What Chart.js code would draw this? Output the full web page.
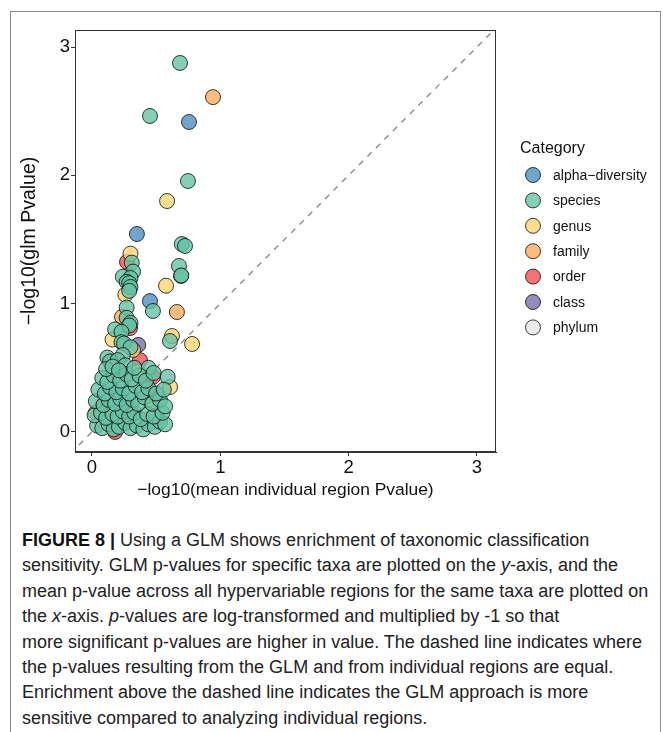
<!DOCTYPE html>
<html>
<head>
<meta charset="utf-8">
<title>GLM vs individual region p-values</title>
<script src="https://cdn.jsdelivr.net/npm/chart.js@4.4.0/dist/chart.umd.min.js"></script>
<style>
  body { margin: 0; background: #fff; font-family: 'Liberation Sans', Arial, sans-serif; }
  #frame { position: absolute; left: 10px; top: 11px; width: 651px; height: 760px; border: 1px solid #8a8a8a; box-sizing: border-box; }
  #plot { position: absolute; left: 11px; top: 12px; }
  #caption { position: absolute; left: 22px; top: 528px; font-size: 18px; line-height: 25.4px; color: #222; white-space: nowrap; }
  #caption b { color: #111; }
</style>
</head>
<body>
<div id="frame"></div>
<canvas id="plot" width="648" height="500"></canvas>
<div id="caption">
  <b>FIGURE 8 |</b> Using a GLM shows enrichment of taxonomic classification<br>
  sensitivity. GLM p-values for specific taxa are plotted on the <i>y</i>-axis, and the<br>
  mean p-value across all hypervariable regions for the same taxa are plotted on<br>
  the <i>x</i>-axis. <i>p</i>-values are log-transformed and multiplied by -1 so that<br>
  more significant p-values are higher in value. The dashed line indicates where<br>
  the p-values resulting from the GLM and from individual regions are equal.<br>
  Enrichment above the dashed line indicates the GLM approach is more<br>
  sensitive compared to analyzing individual regions.
</div>
<script>
// [-log10(mean individual region p), -log10(glm p)] per taxon
const alphaDiversity = [[0.756, 2.416], [0.35, 1.543], [0.452, 1.02], [0.21, 0.29]];

const species = [
  [0.686, 2.876], [0.452, 2.463], [0.748, 1.956], [0.70, 1.465], [0.725, 1.45],
  [0.678, 1.294], [0.694, 1.216], [0.696, 1.22], [0.475, 0.943], [0.608, 0.709], [0.59, 0.43],
  [0.31, 1.32], [0.32, 1.25], [0.24, 1.21], [0.30, 1.20], [0.27, 1.17], [0.29, 1.16],
  [0.30, 1.13], [0.29, 1.10], [0.27, 0.97], [0.27, 0.89], [0.30, 0.85], [0.29, 0.83],
  [0.18, 0.80], [0.23, 0.78], [0.23, 0.70], [0.25, 0.69], [0.30, 0.66], [0.12, 0.58],
  [0.24, 0.60], [0.14, 0.55], [0.44, 0.50], [0.20, 0.56], [0.26, 0.52],
  [0.04, 0.05], [0.08, 0.03], [0.13, 0.06], [0.17, 0.02], [0.21, 0.04], [0.26, 0.07],
  [0.30, 0.03], [0.35, 0.05], [0.40, 0.02], [0.44, 0.06], [0.49, 0.04], [0.53, 0.08], [0.57, 0.06],
  [0.02, 0.13], [0.07, 0.15], [0.11, 0.11], [0.16, 0.14], [0.20, 0.12], [0.24, 0.16],
  [0.29, 0.12], [0.33, 0.15], [0.38, 0.10], [0.43, 0.14], [0.48, 0.12], [0.55, 0.15],
  [0.03, 0.24], [0.09, 0.21], [0.13, 0.25], [0.18, 0.22], [0.22, 0.26], [0.27, 0.21],
  [0.32, 0.25], [0.36, 0.22], [0.41, 0.27], [0.47, 0.22], [0.53, 0.25], [0.57, 0.20],
  [0.05, 0.33], [0.10, 0.30], [0.14, 0.35], [0.19, 0.31], [0.24, 0.34], [0.29, 0.30],
  [0.34, 0.36], [0.39, 0.31], [0.44, 0.34], [0.50, 0.30], [0.56, 0.33],
  [0.08, 0.42], [0.12, 0.39], [0.17, 0.44], [0.22, 0.40], [0.27, 0.45], [0.31, 0.41],
  [0.37, 0.44], [0.42, 0.40], [0.48, 0.46], [0.11, 0.49], [0.16, 0.51], [0.21, 0.48], [0.33, 0.50]
];

const genus = [
  [0.585, 1.80], [0.577, 1.14], [0.623, 0.748], [0.78, 0.686], [0.26, 1.07], [0.30, 1.39],
  [0.32, 0.64], [0.16, 0.72], [0.608, 0.35], [0.44, 0.25], [0.50, 0.13], [0.16, 0.47], [0.36, 0.47]
];

const family = [[0.943, 2.61], [0.662, 0.935], [0.234, 0.896], [0.03, 0.15], [0.475, 0.12]];

const order = [
  [0.273, 1.325], [0.296, 0.81], [0.374, 0.56], [0.475, 0.43], [0.15, 0.55],
  [0.086, 0.21], [0.30, 0.15], [0.45, 0.31], [0.18, 0.0], [0.25, 0.08]
];

const taxClass = [[0.36, 0.678], [0.28, 0.20]];
const phylum = [[0.165, 0.545], [0.12, 0.08]];

const categories = ['alpha\u2212diversity', 'species', 'genus', 'family', 'order', 'class', 'phylum'];
const seriesData = [alphaDiversity, species, genus, family, order, taxClass, phylum];
const fills = ['#4f8fbf', '#66c2a5', '#fdd572', '#fdab5a', '#f45050', '#7a6fab', '#e6e6e6'];

const xTicks = [0, 1, 2, 3];
const yTicks = [0, 1, 2, 3];
const equalLine = [-0.3, 3.4];

function withAlpha(hex, a) {
  const n = parseInt(hex.slice(1), 16);
  return `rgba(${n >> 16}, ${(n >> 8) & 255}, ${n & 255}, ${a})`;
}

const datasets = seriesData.map((pts, i) => ({
  type: 'scatter',
  label: categories[i],
  data: pts.map(p => ({ x: p[0], y: p[1] })),
  backgroundColor: withAlpha(fills[i], 0.8),
  borderColor: 'rgba(0,0,0,0.75)',
  borderWidth: 1,
  pointRadius: 7.5,
  pointHoverRadius: 7.5,
  order: i === 1 ? 0 : 1
}));

datasets.push({
  type: 'line',
  label: 'equal',
  data: equalLine.map(v => ({ x: v, y: v })),
  borderColor: '#8c8c8c',
  borderWidth: 1.4,
  borderDash: [6, 6],
  pointRadius: 0,
  order: 5
});

// panel border plus the category key on the right
const panelAndKey = {
  id: 'panelAndKey',
  afterDraw(chart) {
    const { ctx, chartArea: a } = chart;
    ctx.save();
    ctx.strokeStyle = '#333';
    ctx.lineWidth = 1;
    ctx.strokeRect(a.left + 0.5, a.top + 0.5, a.right - a.left - 1, a.bottom - a.top - 1);

    ctx.fillStyle = '#111';
    ctx.textBaseline = 'middle';
    ctx.font = "16px 'Liberation Sans', Arial, sans-serif";
    ctx.fillText('Category', 509, 137);
    ctx.font = "14px 'Liberation Sans', Arial, sans-serif";
    categories.forEach((c, i) => {
      const y = 163 + i * 25.4;
      ctx.beginPath();
      ctx.arc(522, y, 7.5, 0, Math.PI * 2);
      ctx.fillStyle = withAlpha(fills[i], 0.8);
      ctx.fill();
      ctx.strokeStyle = 'rgba(0,0,0,0.75)';
      ctx.stroke();
      ctx.fillStyle = '#111';
      ctx.fillText(c, 542, y + 1);
    });
    ctx.restore();
  }
};

Chart.defaults.font.family = "'Liberation Sans', Arial, sans-serif";
Chart.defaults.color = '#111';

new Chart(document.getElementById('plot'), {
  data: { datasets },
  plugins: [panelAndKey],
  options: {
    responsive: false,
    devicePixelRatio: 1,
    animation: false,
    layout: { padding: { top: 18, right: 163, bottom: 0, left: 0 } },
    plugins: { legend: { display: false }, tooltip: { enabled: false } },
    scales: {
      x: {
        type: 'linear',
        min: -0.1325,
        max: 3.149,
        afterBuildTicks: s => { s.ticks = xTicks.map(v => ({ value: v })); },
        afterFit: s => { s.height = 60; },
        ticks: { font: { size: 18.5 }, color: '#111', padding: 1 },
        grid: { drawOnChartArea: false, drawTicks: true, tickLength: 4, tickColor: '#333' },
        border: { display: true, color: '#333' },
        title: { display: true, text: '\u2212log10(mean individual region Pvalue)', font: { size: 17.4 }, color: '#111', padding: { top: 2, bottom: 11 } }
      },
      y: {
        type: 'linear',
        min: -0.156,
        max: 3.133,
        afterBuildTicks: s => { s.ticks = yTicks.map(v => ({ value: v })); },
        afterFit: s => { s.width = 64; },
        ticks: { font: { size: 18.5 }, color: '#111', padding: 1 },
        grid: { drawOnChartArea: false, drawTicks: true, tickLength: 4, tickColor: '#333' },
        border: { display: true, color: '#333' },
        title: { display: true, text: '\u2212log10(glm Pvalue)', font: { size: 19.5 }, color: '#111', padding: { top: 7, bottom: 2 } }
      }
    }
  }
});
</script>
</body>
</html>
